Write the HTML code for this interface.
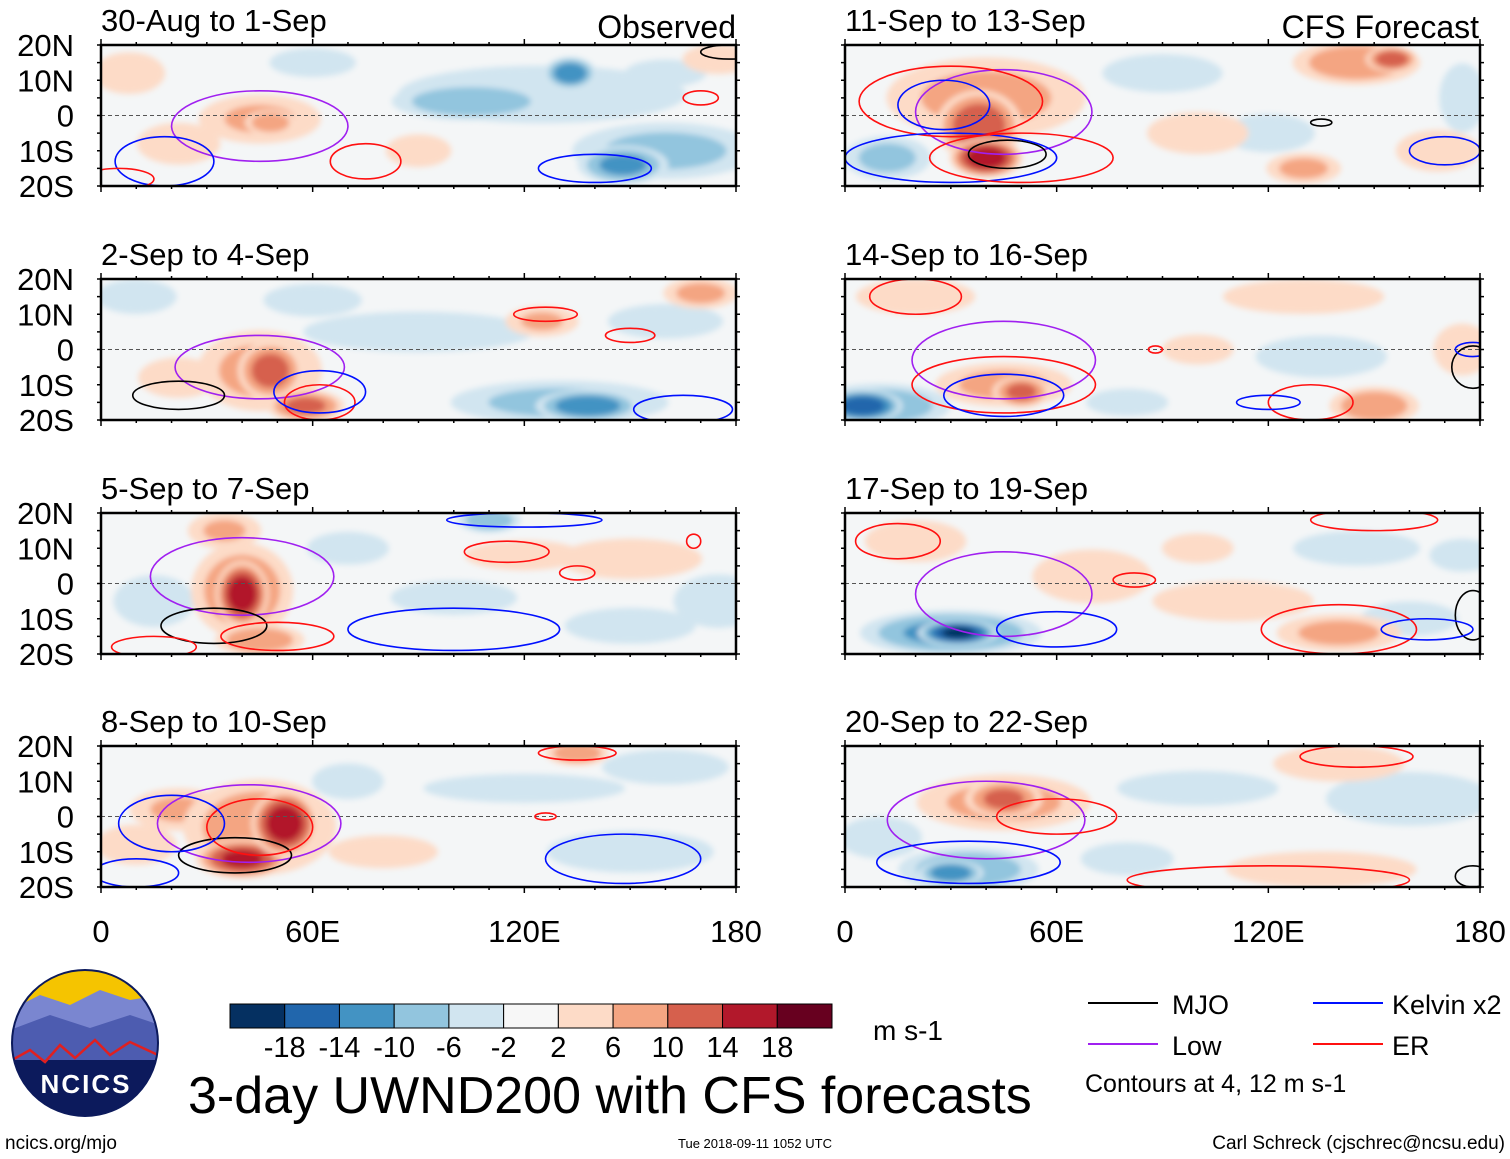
<!DOCTYPE html>
<html><head><meta charset="utf-8"><style>
body{margin:0;background:#fff;width:1510px;height:1159px;overflow:hidden;font-family:"Liberation Sans",sans-serif}
svg{position:absolute;left:0;top:0}
</style></head><body>
<svg id="chart" width="1510" height="1159">
<defs><filter id="blur" x="-20%" y="-20%" width="140%" height="140%"><feGaussianBlur stdDeviation="3"/></filter></defs>
</svg>
<script>
// Panel titles
const titles=["30-Aug to 1-Sep","2-Sep to 4-Sep","5-Sep to 7-Sep","8-Sep to 10-Sep","11-Sep to 13-Sep","14-Sep to 16-Sep","17-Sep to 19-Sep","20-Sep to 22-Sep"];
const latTicks=["20N","10N","0","10S","20S"];
const latVals=[20,10,0,-10,-20];
const lonTicks=["0","60E","120E","180"];
const lonVals=[0,60,120,180];
const cbLevels=["-18","-14","-10","-6","-2","2","6","10","14","18"];
const cbColors=["#053061","#2166ac","#4393c3","#92c5de","#d1e5f0","#f7f7f7","#fddbc7","#f4a582","#d6604d","#b2182b","#67001f"];
// Anomaly blobs per panel: [lon, lat, rxDeg, ryDeg, peak value m/s]
const blobs=[
 [[125,6,50,10,-5],[105,4,25,6,-10],[133,12,8,5,-14],[160,-10,30,9,-8],[148,-14,14,6,-12],[45,-1,20,8,7],[48,-2,8,4,10],[22,-8,14,7,6],[8,12,12,7,6],[90,-10,12,6,4],[175,16,12,5,6],[60,15,15,5,-5],[160,12,15,5,-4]],
 [[45,-6,20,13,8],[48,-6,10,9,13],[58,-16,12,5,12],[130,-15,35,7,-8],[138,-16,16,5,-14],[90,5,40,7,-5],[160,8,20,6,-5],[125,8,12,5,7],[170,16,12,5,8],[22,-8,14,7,5],[10,15,14,6,-5],[60,14,18,6,-4]],
 [[40,-2,16,15,10],[40,-3,8,10,18],[45,-16,14,5,10],[35,15,12,6,7],[120,8,20,5,6],[150,7,25,7,5],[100,-4,22,6,-5],[150,-12,22,6,-6],[110,18,10,4,-10],[15,-5,14,9,-5],[175,-5,15,9,-6],[70,10,15,6,-4]],
 [[45,-3,24,15,10],[52,-2,10,10,18],[40,-12,14,6,16],[22,2,16,7,7],[120,8,35,5,-5],[150,-10,28,7,-6],[70,10,12,6,-6],[135,18,10,4,10],[160,14,22,6,-5],[10,-8,14,7,5],[80,-10,20,6,4]],
 [[40,5,32,13,8],[38,-3,13,11,14],[40,-12,11,6,18],[145,15,20,7,10],[155,16,8,4,14],[100,-5,17,7,6],[90,12,22,7,-4],[168,-10,14,7,6],[12,-12,14,7,-8],[120,-5,17,7,-4],[175,5,8,12,-5],[130,-15,12,5,8]],
 [[5,-16,12,5,-18],[10,-16,22,7,-10],[45,-10,22,7,8],[50,-12,9,5,12],[135,-2,22,7,-6],[150,-16,14,6,10],[100,0,12,5,6],[20,15,20,6,6],[130,15,28,6,5],[175,0,10,9,5],[80,-15,15,5,-4]],
 [[30,-14,28,7,-12],[32,-14,12,4,-20],[70,2,20,9,6],[110,-5,28,7,5],[145,10,22,6,-5],[160,-10,17,6,-5],[140,-14,20,6,8],[20,12,17,7,6],[100,10,12,5,6],[175,8,12,6,-4]],
 [[45,4,28,9,8],[45,5,12,6,12],[35,-15,22,7,-10],[30,-16,10,4,-14],[100,8,28,6,-5],[160,5,28,9,-6],[140,15,22,6,6],[10,-6,14,7,-6],[135,-15,32,6,6],[80,-12,17,6,-4]]
];
// Contours per panel: [type, lonC, latC, rxDeg, ryDeg]
const contours=[
 [["low",45,-3,25,10],["kelvin",18,-13,14,7],["er",75,-13,10,5],["er",170,5,5,2],["kelvin",140,-15,16,4],["er",5,-18,10,3],["mjo",178,18,8,2]],
 [["low",45,-5,24,9],["mjo",22,-13,13,4],["er",62,-15,10,5],["kelvin",62,-12,13,6],["er",126,10,9,2],["er",150,4,7,2],["kelvin",165,-17,14,4]],
 [["low",40,2,26,11],["mjo",32,-12,15,5],["er",50,-15,16,4],["er",115,9,12,3],["er",135,3,5,2],["kelvin",100,-13,30,6],["kelvin",120,18,22,2],["er",168,12,2,2],["er",15,-18,12,3]],
 [["low",42,-2,26,11],["mjo",38,-11,16,5],["er",45,-3,15,8],["kelvin",20,-2,15,8],["er",126,0,3,1],["kelvin",148,-12,22,7],["er",135,18,11,2],["kelvin",10,-16,12,4]],
 [["low",45,1,25,12],["kelvin",28,3,13,7],["er",30,4,26,10],["mjo",46,-11,11,4],["kelvin",30,-12,30,7],["er",50,-12,26,7],["mjo",135,-2,3,1],["kelvin",170,-10,10,4]],
 [["low",45,-3,26,11],["er",45,-10,26,8],["kelvin",45,-13,17,6],["er",20,15,13,5],["er",132,-15,12,5],["kelvin",120,-15,9,2],["mjo",178,-5,6,6],["kelvin",178,0,5,2],["er",88,0,2,1]],
 [["low",45,-3,25,12],["kelvin",60,-13,17,5],["er",82,1,6,2],["er",140,-13,22,7],["er",15,12,12,5],["er",150,18,18,3],["mjo",178,-9,5,7],["kelvin",165,-13,13,3]],
 [["low",40,-1,28,11],["er",60,0,17,5],["kelvin",35,-13,26,6],["er",120,-18,40,4],["er",145,17,16,3],["mjo",178,-17,5,3]]
];
const typeColor={mjo:"#000",low:"#a020f0",kelvin:"#0010ff",er:"#ff1010"};
const NS="http://www.w3.org/2000/svg";
const svg=document.getElementById('chart');
function el(tag,attrs,parent){const e=document.createElementNS(NS,tag);for(const k in attrs)e.setAttribute(k,attrs[k]);(parent||svg).appendChild(e);return e;}
function colorFor(v){let i=0;while(i<10&&v>+cbLevels[i])i++;return cbColors[i];}
const panelX=[101,845],panelY=[45,279,513,746],PW=635,PH=141;
for(let p=0;p<8;p++){
 const col=p<4?0:1,row=p%4;
 const x0=panelX[col],y0=panelY[row];
 const xs=lon=>x0+lon/180*PW, ys=lat=>y0+(20-lat)/40*PH;
 const g=el('g',{});
 
 
 const cid='clip'+p;
 const cp=el('clipPath',{id:cid},g);el('rect',{x:x0,y:y0,width:PW,height:PH},cp);
 const inner=el('g',{'clip-path':'url(#'+cid+')'},g);
 el('rect',{x:x0,y:y0,width:PW,height:PH,fill:"#f4f6f7"},inner);
 const fg=el('g',{filter:'url(#blur)'},inner);
 const sorted=blobs[p].slice().sort((a,b)=>Math.abs(a[4])-Math.abs(b[4]));
 sorted.forEach(b=>{
  const peak=b[4],s=Math.sign(peak),a=Math.abs(peak);
  // stepped filled levels: 2,6,10,14,18
  for(let lev=2;lev<a;lev+=4){
   const f=Math.sqrt(1-lev/(a+1));
   const e=el('ellipse',{cx:xs(b[0]),cy:ys(b[1]),rx:b[2]/180*PW*f,ry:b[3]/40*PH*f,fill:colorFor(s*(lev+0.5))},fg);
   
   
  }
 });
 el('line',{x1:x0,y1:ys(0),x2:x0+PW,y2:ys(0),stroke:"#555","stroke-dasharray":"4,3","stroke-width":1},inner);
 contours[p].forEach(c=>{
  const e=el('ellipse',{cx:xs(c[1]),cy:ys(c[2]),rx:c[3]/180*PW,ry:c[4]/40*PH,fill:"none",stroke:typeColor[c[0]],"stroke-width":1.6},inner);
  
  
 });
 el('rect',{x:x0,y:y0,width:PW,height:PH,fill:"none",stroke:"#000","stroke-width":2.5},g);
 for(let l=0;l<=180;l+=10){const len=l%60==0?6:3;el('line',{x1:xs(l),y1:y0,x2:xs(l),y2:y0-len,stroke:"#000","stroke-width":1.5},g);el('line',{x1:xs(l),y1:y0+PH,x2:xs(l),y2:y0+PH+len,stroke:"#000","stroke-width":1.5},g);}
 for(let l=-20;l<=20;l+=5){el('line',{x1:x0,y1:ys(l),x2:x0-4,y2:ys(l),stroke:"#000","stroke-width":1.5},g);el('line',{x1:x0+PW,y1:ys(l),x2:x0+PW+4,y2:ys(l),stroke:"#000","stroke-width":1.5},g);}
 const t=el('text',{x:x0,y:y0-14,"font-size":31,fill:"#000"},g);t.textContent=titles[p];
 
 
 if(col==0){latVals.forEach((v,i)=>{const lt=el('text',{x:74,y:ys(v)+11,"font-size":31,"text-anchor":"end"},g);lt.textContent=latTicks[i];
  
  });}
 if(row==3){lonVals.forEach((v,i)=>{const lt=el('text',{x:xs(v),y:942,"font-size":31,"text-anchor":"middle"},g);lt.textContent=lonTicks[i];
  
  });}
}
function txt(x,y,s,size,anchor,name,extra){const t=el('text',Object.assign({x:x,y:y,"font-size":size,"text-anchor":anchor||"start"},extra||{}));t.textContent=s;
 
 return t;}
txt(736,38,"Observed",32,"end","observed-label");
txt(1479,38,"CFS Forecast",32,"end","forecast-label");
// colorbar
const cb=el('g',{});


const cbw=602/11;
cbColors.forEach((c,i)=>el('rect',{x:230+i*cbw,y:1004,width:cbw,height:24,fill:c,stroke:"#000","stroke-width":1},cb));
cbLevels.forEach((s,i)=>txt(230+(i+1)*cbw,1057,s,29,"middle","colorbar-tick"));
txt(873,1040,"m s-1",28,"start","units-label");
txt(188,1113,"3-day UWND200 with CFS forecasts",52,"start","main-title");
// legend
const leg=[["MJO","#000",1088,1003,1172],["Kelvin x2","#0010ff",1313,1003,1392],["Low","#a020f0",1088,1044,1172],["ER","#ff1010",1313,1044,1392]];
leg.forEach(l=>{const ln=el('line',{x1:l[2],y1:l[3],x2:l[2]+70,y2:l[3],stroke:l[1],"stroke-width":2});
 
 
 txt(l[4],l[3]+11,l[0],27,"start","legend-entry");});
txt(1085,1092,"Contours at 4, 12 m s-1",25,"start","contour-note");
txt(5,1149,"ncics.org/mjo",19,"start","site-url");
txt(755,1148,"Tue 2018-09-11 1052 UTC",13,"middle","timestamp");
txt(1505,1149,"Carl Schreck (cjschrec@ncsu.edu)",19,"end","author");
// logo
const lg=el('g',{});


const lcp=el('clipPath',{id:'lclip'},lg);el('circle',{cx:85,cy:1043,r:73},lcp);
const li=el('g',{'clip-path':'url(#lclip)'},lg);
el('rect',{x:10,y:968,width:150,height:150,fill:"#0c1a5c"},li);
el('rect',{x:10,y:968,width:150,height:40,fill:"#f5c400"},li);
el('path',{d:"M10 1010 L40 995 L70 1005 L100 990 L130 1000 L160 995 L160 1040 L10 1040Z",fill:"#7a86d0"},li);
el('path',{d:"M10 1030 L50 1015 L90 1028 L130 1015 L160 1025 L160 1060 L10 1060Z",fill:"#4d5cb0"},li);
el('path',{d:"M12 1060 L30 1050 L45 1062 L60 1045 L75 1058 L95 1040 L110 1055 L130 1042 L158 1055",fill:"none",stroke:"#e02020","stroke-width":2.5},li);
el('circle',{cx:85,cy:1043,r:73,fill:"none",stroke:"#0c1a5c","stroke-width":2},lg);
txt(86,1093,"NCICS",26,"middle","logo-text",{fill:"#fff","font-weight":"bold","letter-spacing":"2"});
</script>
</body></html>
